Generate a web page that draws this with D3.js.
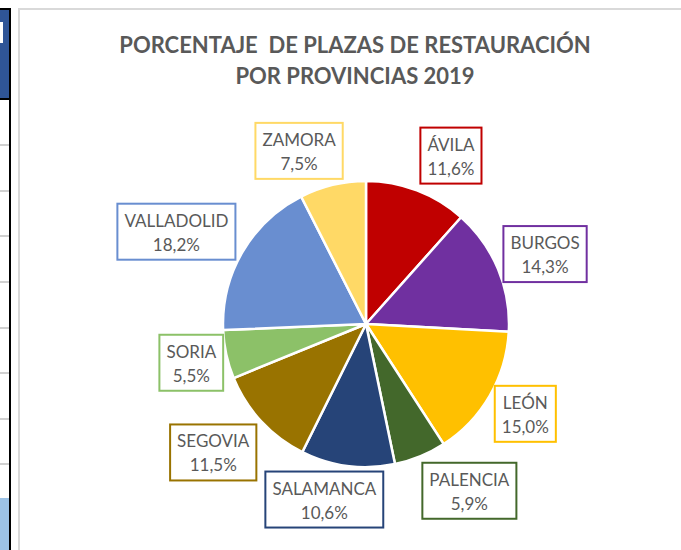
<!DOCTYPE html>
<html>
<head>
<meta charset="utf-8">
<script src="https://cdn.jsdelivr.net/npm/d3@7"></script>
<style>
  body { margin: 0; background: #fff; }
  svg { display: block; font-family: Lato, "Open Sans", sans-serif; }
</style>
</head>
<body>
<div class="chart"></div>
<script>
// provincias in clockwise order from 12 o'clock
const provincias = ['ÁVILA', 'BURGOS', 'LEÓN', 'PALENCIA', 'SALAMANCA', 'SEGOVIA', 'SORIA', 'VALLADOLID', 'ZAMORA'];
const porcentajes = [11.6, 14.3, 15.0, 5.9, 10.6, 11.5, 5.5, 18.2, 7.5];
const colores = ['#C00000', '#7030A0', '#FFC000', '#43682B', '#264478', '#997300', '#8CC168', '#698ED0', '#FFD966'];
const titulo = ['PORCENTAJE  DE PLAZAS DE RESTAURACIÓN', 'POR PROVINCIAS 2019'];

const width = 681;
const height = 550;
const cx = 366;
const cy = 324;
const radius = 143;

// label nudges (Excel moves some labels away from the radial spot)
const nudge = {
  'ÁVILA': [21, -3],
  'BURGOS': [3, -2],
  'LEÓN': [4, 1],
  'PALENCIA': [29, 3],
  'SALAMANCA': [-15, 0],
  'SEGOVIA': [-12, 8],
  'SORIA': [2, 1],
  'VALLADOLID': [-10, -3],
  'ZAMORA': [-22, -1]
};

const svg = d3.select('.chart').append('svg')
  .attr('width', width)
  .attr('height', height);

// spreadsheet bits left of the chart
svg.append('rect').attr('x', 0).attr('y', 9).attr('width', 10).attr('height', 90).attr('fill', '#2F5597');
svg.append('rect').attr('x', 0).attr('y', 22).attr('width', 3).attr('height', 21).attr('fill', '#fff');
svg.append('rect').attr('x', 0).attr('y', 498).attr('width', 10).attr('height', 52).attr('fill', '#9DC3E6');
[144, 190, 235, 281, 327, 372, 418, 463].forEach(y => {
  svg.append('rect').attr('x', 0).attr('y', y).attr('width', 10).attr('height', 2).attr('fill', '#D0D0D0');
});
svg.append('rect').attr('x', 0).attr('y', 8).attr('width', 11).attr('height', 2).attr('fill', '#000');
svg.append('rect').attr('x', 0).attr('y', 98).attr('width', 11).attr('height', 2).attr('fill', '#000');
svg.append('rect').attr('x', 9).attr('y', 8).attr('width', 2).attr('height', 542).attr('fill', '#000');

// chart area border
svg.append('rect').attr('x', 19).attr('y', 9).attr('width', 700).attr('height', 600)
  .attr('fill', '#fff').attr('stroke', '#D9D9D9').attr('stroke-width', 2);

// title
svg.append('g').selectAll('text')
  .data(titulo)
  .enter()
  .append('text')
  .attr('x', 355)
  .attr('y', (d, i) => 53 + i * 31)
  .attr('text-anchor', 'middle')
  .attr('font-size', 22)
  .attr('font-weight', 'bold')
  .attr('fill', '#595959')
  .style('white-space', 'pre')
  .text(d => d);

const data = provincias.map((p, i) => ({ name: p, value: porcentajes[i], color: colores[i] }));

const pie = d3.pie().sort(null).value(d => d.value);
const arc = d3.arc().innerRadius(0).outerRadius(radius);
const arcs = pie(data);

const g = svg.append('g').attr('transform', `translate(${cx},${cy})`);

g.selectAll('path')
  .data(arcs)
  .enter()
  .append('path')
  .attr('d', arc)
  .attr('fill', d => d.data.color)
  .attr('stroke', '#fff')
  .attr('stroke-width', 2.5)
  .attr('stroke-linejoin', 'round');

// data labels in boxes
const fmt = v => v.toFixed(1).replace('.', ',') + '%';
const boxH = 56;
const gap = 6;

const labels = g.selectAll('.label')
  .data(arcs)
  .enter()
  .append('g')
  .attr('class', 'label');

labels.each(function(d) {
  const el = d3.select(this);
  const rect = el.append('rect');
  const t1 = el.append('text')
    .attr('text-anchor', 'middle')
    .attr('font-size', 17)
    .attr('fill', '#595959')
    .attr('y', -5)
    .text(d.data.name);
  const t2 = el.append('text')
    .attr('text-anchor', 'middle')
    .attr('font-size', 17)
    .attr('fill', '#595959')
    .attr('y', 19)
    .text(fmt(d.data.value));
  const w = Math.max(t1.node().getComputedTextLength(), t2.node().getComputedTextLength()) + 14;
  rect.attr('x', -w / 2).attr('y', -boxH / 2).attr('width', w).attr('height', boxH)
    .attr('fill', '#fff').attr('stroke', d.data.color).attr('stroke-width', 2);

  const a = (d.startAngle + d.endAngle) / 2;
  const s = Math.sin(a);
  const c = -Math.cos(a);
  const n = nudge[d.data.name] || [0, 0];
  const x = (radius + gap) * s + s * w / 2 + n[0];
  const y = (radius + gap) * c + c * boxH / 2 + n[1];
  el.attr('transform', `translate(${x},${y})`);
});
</script>
</body>
</html>
